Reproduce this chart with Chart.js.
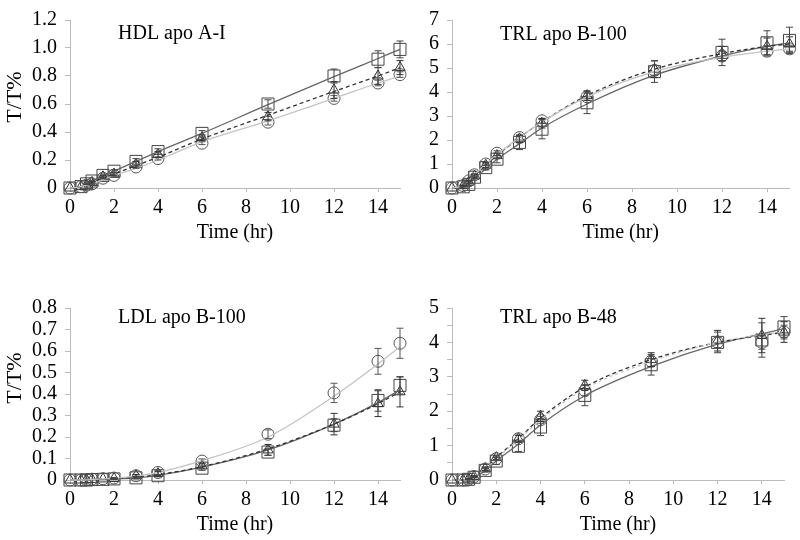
<!DOCTYPE html>
<html><head><meta charset="utf-8">
<script src="https://cdn.jsdelivr.net/npm/chart.js@4.4.0/dist/chart.umd.min.js"></script>
<style>
body{margin:0;background:#fff;width:800px;height:540px;overflow:hidden;position:relative}
canvas{position:absolute}
</style></head><body>
<canvas id="c1" width="420" height="250" style="left:0;top:0"></canvas>
<canvas id="c2" width="400" height="250" style="left:400px;top:0"></canvas>
<canvas id="c3" width="420" height="270" style="left:0;top:270px"></canvas>
<canvas id="c4" width="400" height="270" style="left:400px;top:270px"></canvas>
<script>
// ---- data ----
const time = [0, 0.5, 0.75, 1, 1.5, 2, 3, 4, 6, 9, 12, 14, 15];
const xTicks = [0, 2, 4, 6, 8, 10, 12, 14];

const hdlSquare = [0, 0.01, 0.03, 0.05, 0.09, 0.12, 0.19, 0.26, 0.39, 0.60, 0.80, 0.92, 0.99];
const hdlTriangle = [0, 0.01, 0.02, 0.04, 0.08, 0.10, 0.17, 0.24, 0.36, 0.51, 0.70, 0.80, 0.86];
const hdlCircle = [0, 0.01, 0.02, 0.03, 0.07, 0.09, 0.15, 0.21, 0.32, 0.47, 0.64, 0.75, 0.81];
const hdlSquareErr = [0, 0, 0.005, 0.005, 0.01, 0.01, 0.02, 0.02, 0.02, 0.03, 0.05, 0.06, 0.06];
const hdlTriangleErr = [0, 0, 0, 0.005, 0.01, 0.01, 0.02, 0.02, 0.02, 0.03, 0.06, 0.06, 0.05];
const hdlCircleErr = [0, 0, 0, 0.005, 0.005, 0.01, 0.01, 0.01, 0.01, 0.02, 0.02, 0.02, 0.02];
const hdlSquareFit = [0, 0.01, 0.03, 0.05, 0.085, 0.12, 0.19, 0.26, 0.39, 0.595, 0.795, 0.925, 0.99];
const hdlTriangleFit = [0, 0.01, 0.02, 0.04, 0.07, 0.10, 0.16, 0.22, 0.35, 0.52, 0.69, 0.80, 0.86];
const hdlCircleFit = [0, 0.01, 0.02, 0.03, 0.06, 0.09, 0.14, 0.20, 0.33, 0.48, 0.64, 0.75, 0.80];
const hdlYTicks = [0, 0.2, 0.4, 0.6, 0.8, 1.0, 1.2];
const hdlYLabels = ['0', '0.2', '0.4', '0.6', '0.8', '1.0', '1.2'];

// TRL apo B-100
const trl100Square = [0, 0.05, 0.15, 0.45, 0.85, 1.2, 1.9, 2.45, 3.55, 4.85, 5.65, 6.05, 6.15];
const trl100Triangle = [0, 0.1, 0.25, 0.5, 0.95, 1.35, 2.05, 2.7, 3.85, 4.95, 5.6, 5.9, 6.0];
const trl100Circle = [0, 0.1, 0.3, 0.55, 1.0, 1.45, 2.1, 2.8, 3.8, 4.9, 5.5, 5.7, 5.8];
const trl100SquareErr = [0, 0.02, 0.05, 0.05, 0.1, 0.15, 0.3, 0.4, 0.45, 0.45, 0.55, 0.5, 0.55];
const trl100TriangleErr = [0, 0.02, 0.05, 0.05, 0.1, 0.1, 0.15, 0.2, 0.2, 0.35, 0.3, 0.35, 0.3];
const trl100CircleErr = [0, 0.02, 0.03, 0.05, 0.05, 0.1, 0.1, 0.1, 0.15, 0.2, 0.2, 0.2, 0.15];
const trl100SquareFit = [0, 0.05, 0.2, 0.4, 0.8, 1.2, 1.85, 2.5, 3.5, 4.7, 5.5, 5.9, 6.05];
const trl100TriangleFit = [0, 0.1, 0.25, 0.5, 0.95, 1.35, 2.1, 2.75, 3.85, 4.95, 5.6, 5.9, 6.0];
const trl100CircleFit = [0, 0.1, 0.3, 0.55, 1.0, 1.4, 2.1, 2.75, 3.8, 4.85, 5.45, 5.7, 5.8];
const trl100YTicks = [0, 1, 2, 3, 4, 5, 6, 7];
const trl100YLabels = ['0', '1', '2', '3', '4', '5', '6', '7'];

// LDL apo B-100
const ldlSquare = [0, 0, 0, 0.002, 0.003, 0.005, 0.01, 0.02, 0.055, 0.13, 0.255, 0.37, 0.44];
const ldlTriangle = [0, 0, 0.001, 0.003, 0.005, 0.007, 0.02, 0.03, 0.065, 0.14, 0.26, 0.355, 0.41];
const ldlCircle = [0, 0, 0.001, 0.004, 0.006, 0.009, 0.02, 0.035, 0.088, 0.213, 0.405, 0.552, 0.636];
const ldlSquareErr = [0, 0, 0, 0, 0, 0.002, 0.005, 0.005, 0.01, 0.015, 0.03, 0.05, 0.04];
const ldlTriangleErr = [0, 0, 0, 0, 0, 0.002, 0.005, 0.01, 0.01, 0.025, 0.05, 0.06, 0.07];
const ldlCircleErr = [0, 0, 0, 0, 0, 0.002, 0.005, 0.01, 0.01, 0.02, 0.045, 0.06, 0.07];
const ldlSquareFit = [0, 0, 0, 0.002, 0.003, 0.005, 0.01, 0.022, 0.06, 0.14, 0.26, 0.36, 0.42];
const ldlTriangleFit = [0, 0, 0.001, 0.003, 0.005, 0.007, 0.013, 0.025, 0.062, 0.145, 0.26, 0.355, 0.41];
const ldlCircleFit = [0, 0, 0.001, 0.003, 0.005, 0.008, 0.018, 0.035, 0.09, 0.2, 0.39, 0.54, 0.62];
const ldlYTicks = [0, 0.1, 0.2, 0.3, 0.4, 0.5, 0.6, 0.7, 0.8];
const ldlYLabels = ['0', '0.1', '0.2', '0.3', '0.4', '0.5', '0.6', '0.7', '0.8'];

// TRL apo B-48
const trl48Square = [0, 0, 0.02, 0.08, 0.28, 0.55, 0.98, 1.54, 2.46, 3.35, 4.0, 4.07, 4.45];
const trl48Triangle = [0, 0, 0.03, 0.1, 0.33, 0.65, 1.2, 1.85, 2.75, 3.5, 4.05, 4.2, 4.3];
const trl48Circle = [0, 0, 0.02, 0.1, 0.32, 0.62, 1.2, 1.75, 2.6, 3.45, 4.0, 4.0, 4.3];
const trl48SquareErr = [0, 0, 0.01, 0.02, 0.05, 0.1, 0.15, 0.25, 0.3, 0.3, 0.3, 0.5, 0.3];
const trl48TriangleErr = [0, 0, 0.01, 0.02, 0.05, 0.05, 0.1, 0.15, 0.15, 0.2, 0.3, 0.5, 0.3];
const trl48CircleErr = [0, 0, 0.01, 0.02, 0.05, 0.05, 0.1, 0.1, 0.15, 0.15, 0.15, 0.2, 0.2];
const trl48SquareFit = [0, 0, 0.02, 0.08, 0.28, 0.55, 1.05, 1.6, 2.45, 3.3, 3.95, 4.25, 4.4];
const trl48TriangleFit = [0, 0, 0.03, 0.1, 0.33, 0.65, 1.2, 1.8, 2.7, 3.5, 4.0, 4.2, 4.3];
const trl48CircleFit = [0, 0, 0.02, 0.1, 0.32, 0.62, 1.17, 1.75, 2.65, 3.45, 4.0, 4.22, 4.3];
const trl48YTicks = [0, 0.5, 1, 1.5, 2, 2.5, 3, 3.5, 4, 4.5, 5];
const trl48YLabels = ['0', '', '1', '', '2', '', '3', '', '4', '', '5'];

// ---- rendering ----
const FONT = '"Liberation Serif", "Times New Roman", serif';

const errPlugin = {
  id: 'errbars',
  afterDatasetsDraw(chart) {
    const ctx = chart.ctx, xs = chart.scales.x, ys = chart.scales.y;
    chart.data.datasets.forEach(ds => {
      if (!ds.err) return;
      ctx.save();
      ctx.strokeStyle = ds.errColor;
      ctx.lineWidth = 1;
      ds.data.forEach((p, j) => {
        const e = ds.err[j];
        if (!e) return;
        const px = xs.getPixelForValue(p.x);
        const y1 = ys.getPixelForValue(p.y + e), y2 = ys.getPixelForValue(p.y - e);
        ctx.beginPath();
        ctx.moveTo(px, y1); ctx.lineTo(px, y2);
        ctx.moveTo(px - 3.5, y1); ctx.lineTo(px + 3.5, y1);
        ctx.moveTo(px - 3.5, y2); ctx.lineTo(px + 3.5, y2);
        ctx.stroke();
      });
      ctx.restore();
    });
  }
};

const labelPlugin = {
  id: 'panelLabel',
  afterDraw(chart, args, o) {
    const ctx = chart.ctx;
    ctx.save();
    ctx.font = '20px ' + FONT;
    ctx.fillStyle = '#000';
    ctx.textBaseline = 'middle';
    ctx.textAlign = 'left';
    ctx.fillText(o.text, chart.chartArea.left + o.dx, chart.chartArea.top + o.dy);
    if (o.yTitle) {
      ctx.font = '22px ' + FONT;
      ctx.textAlign = 'center';
      ctx.translate(o.yTitleX, chart.chartArea.top + o.yTitleDy);
      ctx.rotate(-Math.PI / 2);
      ctx.fillText(o.yTitle, 0, 0);
    }
    ctx.restore();
  }
};

function pts(vals) { return time.map((t, i) => ({x: t, y: vals[i]})); }

function fitLine(vals, color, dash) {
  return {data: pts(vals), showLine: true, borderColor: color, borderWidth: 1.3, borderDash: dash,
    pointRadius: 0, cubicInterpolationMode: 'monotone', clip: false, fill: false};
}
function marks(vals, err, style, radius, color) {
  return {data: pts(vals), err: err, errColor: color, showLine: false,
    pointStyle: style, pointRadius: radius, pointBorderColor: color,
    pointBackgroundColor: 'rgba(255,255,255,0)', pointBorderWidth: 1, clip: false};
}

function makeChart(id, cfg) {
  const datasets = [
    fitLine(cfg.circleFit, '#c4c4c4', cfg.circleDash || []),
    fitLine(cfg.triangleFit, '#333', [4, 3]),
    fitLine(cfg.squareFit, '#666', []),
    marks(cfg.circle, cfg.circleErr, 'circle', 6, '#555'),
    marks(cfg.triangle, cfg.triangleErr, 'triangle', 6, '#333'),
    marks(cfg.square, cfg.squareErr, 'rect', 8.5, '#444')
  ];

  new Chart(document.getElementById(id), {
    type: 'scatter',
    data: {datasets},
    plugins: [errPlugin, labelPlugin],
    options: {
      responsive: false, animation: false, devicePixelRatio: 1,
      layout: {padding: cfg.padding},
      plugins: {legend: {display: false}, tooltip: {enabled: false},
        panelLabel: {text: cfg.title, dx: cfg.titleDx, dy: cfg.titleDy,
          yTitle: cfg.yTitle, yTitleX: 15, yTitleDy: cfg.yTitleDy}},
      scales: {
        x: {
          type: 'linear', min: 0, max: 15,
          afterBuildTicks: s => { s.ticks = xTicks.map(v => ({value: v})); },
          afterFit: s => { s.height = 57; },
          ticks: {font: {family: FONT, size: 20}, color: '#000', padding: 4, maxRotation: 0, autoSkip: false},
          grid: {drawOnChartArea: false, drawTicks: true, tickLength: 4, color: '#bbb'},
          border: {color: '#bbb'},
          title: {display: true, text: 'Time (hr)', font: {family: FONT, size: 20}, color: '#000', padding: {top: 0, bottom: 0}}
        },
        y: {
          type: 'linear', min: 0, max: cfg.yTicks[cfg.yTicks.length - 1],
          afterBuildTicks: s => { s.ticks = cfg.yTicks.map(v => ({value: v})); },
          afterFit: s => { s.width = cfg.yWidth; },
          ticks: {font: {family: FONT, size: 20}, color: '#000', padding: 8, autoSkip: false,
            callback: (v, i) => cfg.yLabels[i]},
          grid: {drawOnChartArea: false, drawTicks: true, tickLength: 5, color: '#bbb'},
          border: {color: '#bbb'}
        }
      }
    }
  });
}

makeChart('c1', {title: 'HDL apo A-I', titleDx: 48, titleDy: 14,
  circle: hdlCircle, triangle: hdlTriangle, square: hdlSquare,
  circleErr: hdlCircleErr, triangleErr: hdlTriangleErr, squareErr: hdlSquareErr,
  circleFit: hdlCircleFit, triangleFit: hdlTriangleFit, squareFit: hdlSquareFit,
  yTicks: hdlYTicks, yLabels: hdlYLabels, yTitle: 'T/T%', yTitleDy: 77, yWidth: 70,
  padding: {left: 0, top: 15, right: 20, bottom: 5}});

makeChart('c2', {title: 'TRL apo B-100', titleDx: 48, titleDy: 15,
  circle: trl100Circle, triangle: trl100Triangle, square: trl100Square,
  circleErr: trl100CircleErr, triangleErr: trl100TriangleErr, squareErr: trl100SquareErr,
  circleFit: trl100CircleFit, triangleFit: trl100TriangleFit, squareFit: trl100SquareFit,
  yTicks: trl100YTicks, yLabels: trl100YLabels, yWidth: 52,
  padding: {left: 0, top: 15, right: 10.5, bottom: 5}});

makeChart('c3', {title: 'LDL apo B-100', titleDx: 48, titleDy: 10,
  circle: ldlCircle, triangle: ldlTriangle, square: ldlSquare,
  circleErr: ldlCircleErr, triangleErr: ldlTriangleErr, squareErr: ldlSquareErr,
  circleFit: ldlCircleFit, triangleFit: ldlTriangleFit, squareFit: ldlSquareFit,
  yTicks: ldlYTicks, yLabels: ldlYLabels, yTitle: 'T/T%', yTitleDy: 70, yWidth: 70,
  padding: {left: 0, top: 38, right: 20, bottom: 3}});

makeChart('c4', {title: 'TRL apo B-48', titleDx: 48, titleDy: 10, circleDash: [3, 3],
  circle: trl48Circle, triangle: trl48Triangle, square: trl48Square,
  circleErr: trl48CircleErr, triangleErr: trl48TriangleErr, squareErr: trl48SquareErr,
  circleFit: trl48CircleFit, triangleFit: trl48TriangleFit, squareFit: trl48SquareFit,
  yTicks: trl48YTicks, yLabels: trl48YLabels, yWidth: 52,
  padding: {left: 0, top: 38, right: 16, bottom: 3}});
</script>
</body></html>
